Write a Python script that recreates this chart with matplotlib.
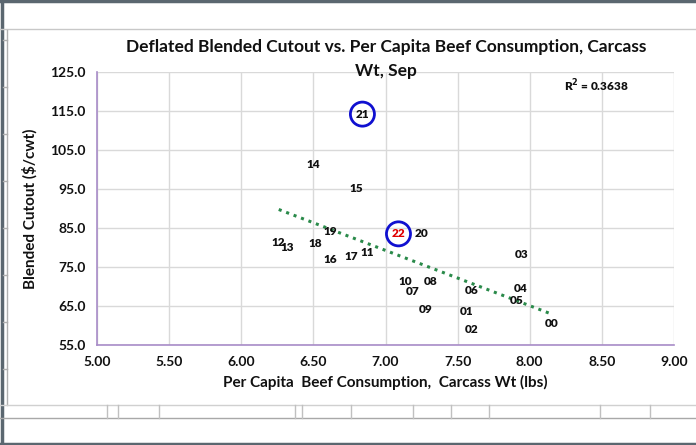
import matplotlib
matplotlib.use("Agg")
import matplotlib.pyplot as plt
from matplotlib.lines import Line2D
import numpy as np

plt.rcParams['font.family'] = ['Lato', 'DejaVu Sans']

years = ['00', '01', '02', '03', '04', '05', '06', '07', '08', '09', '10', '11',
         '12', '13', '14', '15', '16', '17', '18', '19', '20', '21', '22']
consumption = [8.15, 7.56, 7.60, 7.94, 7.94, 7.91, 7.60, 7.19, 7.31, 7.28, 7.14, 6.87,
               6.26, 6.32, 6.50, 6.80, 6.62, 6.76, 6.51, 6.62, 7.25, 6.84, 7.09]
cutout = [60.6, 63.5, 59.1, 78.3, 69.4, 66.5, 69.1, 68.6, 71.4, 64.0, 71.4, 78.6,
          81.4, 80.1, 101.2, 95.0, 77.0, 77.8, 80.9, 84.2, 83.7, 114.2, 83.5]
circled = ['21', '22']
x_ticks = [5.0, 5.5, 6.0, 6.5, 7.0, 7.5, 8.0, 8.5, 9.0]
y_ticks = [55.0, 65.0, 75.0, 85.0, 95.0, 105.0, 115.0, 125.0]

W, H = 696, 445
fig = plt.figure(figsize=(W / 100, H / 100), dpi=100)
fig.patch.set_facecolor('white')
ax = fig.add_axes([97 / W, 1 - 345 / H, (674 - 97) / W, (345 - 72) / H])

x = np.array(consumption)
y = np.array(cutout)

# trendline (linear fit), drawn over the data range
coef = np.polyfit(x, y, 1)
xs = np.array([x.min(), x.max()])
ax.plot(xs, np.polyval(coef, xs), linestyle=(0, (1, 1.6)), color='#2a8a4a', linewidth=2.2, zorder=2)

for lbl, xi, yi in zip(years, consumption, cutout):
    col = '#e00000' if lbl == '22' else '#111111'
    ax.text(xi, yi, lbl, ha='center', va='center', fontsize=8.5, fontweight='heavy', color=col, zorder=4)

cx = [consumption[years.index(c)] for c in circled]
cy = [cutout[years.index(c)] for c in circled]
ax.scatter(cx, cy, s=300, facecolors='none', edgecolors='#1010d0', linewidths=2, zorder=3)

ax.set_xlim(5.0, 9.0)
ax.set_ylim(55.0, 125.0)
ax.set_xticks(x_ticks)
ax.set_yticks(y_ticks)
ax.set_xticklabels([f'{v:.2f}' for v in x_ticks])
ax.set_yticklabels([f'{v:.1f}' for v in y_ticks])
ax.tick_params(length=0, labelsize=10, pad=8, colors='#111111')
for t in ax.get_xticklabels() + ax.get_yticklabels():
    t.set_fontweight('bold')
ax.grid(color='#d9d9d9', linewidth=1)
ax.set_axisbelow(True)
for s in ['top', 'right']:
    ax.spines[s].set_visible(False)
for s in ['left', 'bottom']:
    ax.spines[s].set_color('#a88cc8')
    ax.spines[s].set_linewidth(1.2)

ax.set_xlabel('Per Capita  Beef Consumption,  Carcass Wt (lbs)', fontsize=11, fontweight='bold',
              color='#111111', labelpad=5)
ax.set_ylabel('Blended Cutout ($/cwt)', fontsize=11, fontweight='bold', color='#111111', labelpad=9)
fig.text(386 / W, 1 - 47 / H, 'Deflated Blended Cutout vs. Per Capita Beef Consumption, Carcass',
         fontsize=12.5, fontweight='bold', color='#111111', ha='center', va='center')
fig.text(386 / W, 1 - 71 / H, 'Wt, Sep', fontsize=12.5, fontweight='bold', color='#111111',
         ha='center', va='center')
ax.text(8.46, 121.4, 'R$^\\mathbf{2}$ = 0.3638', fontsize=8.5, fontweight='heavy', ha='center', va='center',
        color='#111111')

# spreadsheet frame around the chart
def px_line(x0, y0, x1, y1, color, lw):
    fig.add_artist(Line2D([x0 / W, x1 / W], [1 - y0 / H, 1 - y1 / H], color=color,
                          linewidth=lw, transform=fig.transFigure))

px_line(0, 1, W, 1, '#5b6770', 2.5)
px_line(0, 443.5, W, 443.5, '#5b6770', 2.5)
px_line(1.5, 0, 1.5, H, '#5b6770', 2.5)
px_line(0, 28.5, W, 28.5, '#c8c8c8', 1)
px_line(7, 30, 7, 405, '#b0b0b0', 1)
for ry in range(40, 405, 47):
    px_line(3, ry, 7, ry, '#b0b0b0', 1)
px_line(0, 405, W, 405, '#d0d0d0', 1)
px_line(0, 418, W, 418, '#a8a8a8', 1)
for vx in [107, 118, 159, 295, 302, 351, 413, 451, 489, 600, 650]:
    px_line(vx, 405, vx, 418, '#c0c0c0', 1)

fig.savefig('out.png', dpi=100)
